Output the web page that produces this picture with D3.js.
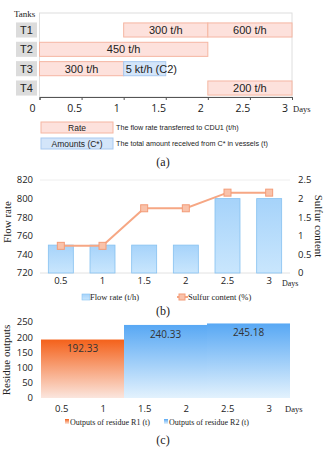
<!DOCTYPE html>
<meta charset="utf-8">
<style>
  body { margin: 0; background: #fff; }
  svg { display: block; }
  .serif { font-family: "Liberation Serif", "DejaVu Serif", serif; fill: #222; }
  .sans { font-family: "Open Sans", "Noto Sans", sans-serif; fill: #222; }
  .arial { font-family: "Liberation Sans", Arial, sans-serif; fill: #222; }
</style>
<body>
<script src="https://d3js.org/d3.v7.min.js"></script>
<script>
// panel (a) – tank schedule
var tanks = ["T1", "T2", "T3", "T4"];
var ganttTank  = ["T1", "T1", "T2", "T3", "T3", "T4"];
var ganttStart = [1, 2, 0, 0, 1, 2];
var ganttEnd   = [2, 3, 2, 1, 1.5, 3];
var ganttLabel = ["300 t/h", "600 t/h", "450 t/h", "300 t/h", "5 kt/h (C2)", "200 t/h"];
var ganttKind  = ["rate", "rate", "rate", "rate", "amount", "rate"];
var dayTicks = [0, 0.5, 1, 1.5, 2, 2.5, 3];

// panel (b) – flow rate and sulfur content
var days = ["0.5", "1", "1.5", "2", "2.5", "3"];
var flowRate = [750, 750, 750, 750, 800, 800];
var sulfur = [0.73, 0.73, 1.74, 1.74, 2.16, 2.16];
var flowTicks = [720, 740, 760, 780, 800, 820];
var sulfurTicks = [0, 0.5, 1, 1.5, 2, 2.5];

// panel (c) – residue outputs
var residueName  = ["R1", "R2", "R2"];
var residueFrom  = ["0.5", "1.5", "2.5"];
var residueTo    = ["1", "2", "3"];
var residueValue = [192.33, 240.33, 245.18];
var residueTicks = [0, 50, 100, 150, 200, 250];

var W = 325, H = 466;
var svg = d3.select("body").append("svg").attr("width", W).attr("height", H);
var defs = svg.append("defs");

function grad(id, top, bottom) {
    var g = defs.append("linearGradient").attr("id", id)
        .attr("x1", 0).attr("y1", 0).attr("x2", 0).attr("y2", 1);
    g.append("stop").attr("offset", "0%").attr("stop-color", top);
    g.append("stop").attr("offset", "100%").attr("stop-color", bottom);
}
grad("gBlueB", "#a6d3fa", "#c9e6fd");
grad("gR1", "#f4611a", "#fbe6de");
grad("gR2", "#58a8f4", "#e3f2fd");

// ---------------- (a) ----------------
var xa = d3.scaleLinear().domain([0, 3]).range([39.5, 292]);
var ya = d3.scaleBand().domain(tanks).range([20.5, 97.5]).paddingInner(0.22).paddingOuter(0.1);
var ga = svg.append("g");

ga.append("rect").attr("x", xa(0)).attr("y", 13).attr("width", xa(3) - xa(0)).attr("height", 84)
  .attr("fill", "none").attr("stroke", "#dedede");

ga.append("text").attr("class", "serif").attr("x", 14).attr("y", 17)
  .style("font-size", "9px").text("Tanks");

var tankG = ga.selectAll(".tank").data(tanks).enter().append("g");
tankG.append("rect").attr("x", 16).attr("width", 21)
  .attr("y", function(d) { return ya(d); }).attr("height", ya.bandwidth())
  .attr("fill", "#dcdcdc");
tankG.append("text").attr("class", "arial").attr("x", 26.5)
  .attr("y", function(d) { return ya(d) + ya.bandwidth() / 2; })
  .attr("dy", "0.36em").attr("text-anchor", "middle").style("font-size", "11px")
  .text(function(d) { return d; });

var segs = d3.range(ganttTank.length);
ga.selectAll(".seg").data(segs).enter().append("rect")
  .attr("x", function(i) { return xa(ganttStart[i]); })
  .attr("width", function(i) { return xa(ganttEnd[i]) - xa(ganttStart[i]); })
  .attr("y", function(i) { return ya(ganttTank[i]) + 0.5; })
  .attr("height", ya.bandwidth() - 1)
  .attr("fill", function(i) { return ganttKind[i] == "rate" ? "#fde1dc" : "#d3e5fa"; })
  .attr("stroke", function(i) { return ganttKind[i] == "rate" ? "#f5b6a2" : "#a9c9f0"; })
  .attr("stroke-width", 1);

ga.selectAll(".segLabel").data(segs).enter().append("text")
  .attr("class", "arial")
  .attr("x", function(i) {
      return ganttKind[i] == "rate" ? (xa(ganttStart[i]) + xa(ganttEnd[i])) / 2 : xa(ganttStart[i]) + 2;
  })
  .attr("text-anchor", function(i) { return ganttKind[i] == "rate" ? "middle" : "start"; })
  .attr("y", function(i) { return ya(ganttTank[i]) + ya.bandwidth() / 2; })
  .attr("dy", "0.36em").style("font-size", "11px")
  .text(function(i) { return ganttLabel[i]; });

var axA = ga.append("g").attr("transform", "translate(0,97)")
  .call(d3.axisBottom(xa).tickValues(dayTicks).tickSize(3).tickFormat(""));
axA.select(".domain").attr("stroke", "#555");
axA.selectAll(".tick line").attr("stroke", "#555");
ga.selectAll(".dayLabel").data(dayTicks).enter().append("text")
  .attr("class", "sans").attr("x", function(d) { return xa(d) - 7; }).attr("y", 112)
  .attr("text-anchor", "middle").style("font-size", "10.5px")
  .text(function(d) { return d; });
ga.append("text").attr("class", "serif").attr("x", 293).attr("y", 112)
  .style("font-size", "8.5px").text("Days");

// legend (a)
var legA = [["Rate", "The flow rate transferred to CDU1 (t/h)", "#fde1dc", "#f5b6a2"],
            ["Amounts (C*)", "The total amount received from C* in vessels (t)", "#d3e5fa", "#a9c9f0"]];
legA.forEach(function(l, i) {
    var y0 = 122 + i * 16;
    ga.append("rect").attr("x", 41).attr("y", y0).attr("width", 72).attr("height", 11)
      .attr("fill", l[2]).attr("stroke", l[3]);
    ga.append("text").attr("class", "arial").attr("x", 77).attr("y", y0 + 5.5).attr("dy", "0.36em")
      .attr("text-anchor", "middle").style("font-size", "8.5px").text(l[0]);
    ga.append("text").attr("class", "arial").attr("x", 116).attr("y", y0 + 5.5).attr("dy", "0.36em")
      .style("font-size", "7.2px").text(l[1]);
});
svg.append("text").attr("class", "serif").attr("x", 163).attr("y", 166)
  .attr("text-anchor", "middle").style("font-size", "12px").text("(a)");

// ---------------- (b) ----------------
var xb = d3.scaleBand().domain(days).range([40, 290]).paddingInner(0.4).paddingOuter(0.2);
var yb = d3.scaleLinear().domain([720, 820]).range([273, 180]);
var yb2 = d3.scaleLinear().domain([0, 2.5]).range([273, 180]);
var gb = svg.append("g");

gb.append("line").attr("x1", 40).attr("x2", 290).attr("y1", yb(820)).attr("y2", yb(820))
  .attr("stroke", "#eee");
gb.append("line").attr("x1", 40).attr("x2", 290).attr("y1", yb(720)).attr("y2", yb(720))
  .attr("stroke", "#e2e2e2");

gb.selectAll(".bar").data(flowRate).enter().append("rect")
  .attr("x", function(d, i) { return xb(days[i]); })
  .attr("width", xb.bandwidth())
  .attr("y", function(d) { return yb(d); })
  .attr("height", function(d) { return yb(720) - yb(d); })
  .attr("fill", "url(#gBlueB)").attr("stroke", "#86c1f0").attr("stroke-width", 0.8);

var line = d3.line()
  .x(function(d, i) { return xb(days[i]) + xb.bandwidth() / 2; })
  .y(function(d) { return yb2(d); });
gb.append("path").datum(sulfur).attr("d", line)
  .attr("fill", "none").attr("stroke", "#f6a784").attr("stroke-width", 2);
gb.selectAll(".mk").data(sulfur).enter().append("rect")
  .attr("x", function(d, i) { return xb(days[i]) + xb.bandwidth() / 2 - 3.5; })
  .attr("y", function(d) { return yb2(d) - 3.5; })
  .attr("width", 7).attr("height", 7)
  .attr("fill", "#f9c2aa").attr("stroke", "#f39c78").attr("stroke-width", 1);

gb.selectAll(".lt").data(flowTicks).enter().append("text")
  .attr("class", "sans").attr("x", 33).attr("y", function(d) { return yb(d); })
  .attr("dy", "0.36em").attr("text-anchor", "end").style("font-size", "9.5px")
  .text(function(d) { return d; });
gb.selectAll(".rt").data(sulfurTicks).enter().append("text")
  .attr("class", "sans").attr("x", 298).attr("y", function(d) { return yb2(d); })
  .attr("dy", "0.36em").style("font-size", "9.5px")
  .text(function(d) { return d; });
gb.selectAll(".xt").data(days).enter().append("text")
  .attr("class", "sans").attr("x", function(d) { return xb(d) + xb.bandwidth() / 2; })
  .attr("y", 281).attr("dy", "0.36em").attr("text-anchor", "middle").style("font-size", "9.5px")
  .text(function(d) { return d; });
gb.append("text").attr("class", "serif").attr("x", 282).attr("y", 283.5).attr("dy", "0.36em")
  .style("font-size", "8px").text("Days");

gb.append("text").attr("class", "serif").attr("transform", "translate(11,222) rotate(-90)")
  .attr("text-anchor", "middle").style("font-size", "11px").text("Flow rate");
gb.append("text").attr("class", "serif").attr("transform", "translate(315,226) rotate(90)")
  .attr("text-anchor", "middle").style("font-size", "11px").text("Sulfur content");

// legend (b)
gb.append("rect").attr("x", 82).attr("y", 294).attr("width", 8).attr("height", 6)
  .attr("fill", "url(#gBlueB)").attr("stroke", "#86c1f0").attr("stroke-width", 0.6);
gb.append("text").attr("class", "serif").attr("x", 90).attr("y", 297).attr("dy", "0.36em")
  .style("font-size", "8.5px").text("Flow rate (t/h)");
gb.append("line").attr("x1", 177).attr("x2", 188).attr("y1", 297).attr("y2", 297)
  .attr("stroke", "#f6a784").attr("stroke-width", 2);
gb.append("rect").attr("x", 179).attr("y", 294).attr("width", 6).attr("height", 6)
  .attr("fill", "#f9c2aa").attr("stroke", "#f39c78");
gb.append("text").attr("class", "serif").attr("x", 188).attr("y", 297).attr("dy", "0.36em")
  .style("font-size", "8.5px").text("Sulfur content (%)");
svg.append("text").attr("class", "serif").attr("x", 163).attr("y", 315)
  .attr("text-anchor", "middle").style("font-size", "12px").text("(b)");

// ---------------- (c) ----------------
var xc = d3.scaleBand().domain(days).range([41, 290]).padding(0);
var yc = d3.scaleLinear().domain([0, 250]).range([398, 322]);
var gc = svg.append("g");

var blocks = d3.range(residueValue.length);
gc.selectAll(".res").data(blocks).enter().append("rect")
  .attr("x", function(i) { return xc(residueFrom[i]); })
  .attr("width", function(i) { return xc(residueTo[i]) + xc.bandwidth() - xc(residueFrom[i]); })
  .attr("y", function(i) { return yc(residueValue[i]); })
  .attr("height", function(i) { return yc(0) - yc(residueValue[i]); })
  .attr("fill", function(i) { return residueName[i] == "R1" ? "url(#gR1)" : "url(#gR2)"; });
gc.selectAll(".resLabel").data(blocks).enter().append("text")
  .attr("class", "sans")
  .attr("x", function(i) { return (xc(residueFrom[i]) + xc(residueTo[i]) + xc.bandwidth()) / 2; })
  .attr("y", function(i) { return yc(residueValue[i]) + 9; })
  .attr("dy", "0.36em").attr("text-anchor", "middle").style("font-size", "10px").style("fill", "#333")
  .text(function(i) { return residueValue[i].toFixed(2); });

gc.selectAll(".lt").data(residueTicks).enter().append("text")
  .attr("class", "sans").attr("x", 33).attr("y", function(d) { return yc(d); })
  .attr("dy", "0.36em").attr("text-anchor", "end").style("font-size", "9.5px")
  .text(function(d) { return d; });
gc.selectAll(".xt").data(days).enter().append("text")
  .attr("class", "sans").attr("x", function(d) { return xc(d) + xc.bandwidth() / 2; })
  .attr("y", 409).attr("dy", "0.36em").attr("text-anchor", "middle").style("font-size", "9.5px")
  .text(function(d) { return d; });
gc.append("text").attr("class", "serif").attr("x", 285).attr("y", 409).attr("dy", "0.36em")
  .style("font-size", "8.5px").text("Days");
gc.append("text").attr("class", "serif").attr("transform", "translate(10,360) rotate(-90)")
  .attr("text-anchor", "middle").style("font-size", "11px").text("Residue outputs");

// legend (c)
gc.append("rect").attr("x", 65).attr("y", 419).attr("width", 4).attr("height", 5).attr("fill", "url(#gR1)");
gc.append("text").attr("class", "serif").attr("x", 70).attr("y", 422).attr("dy", "0.36em")
  .style("font-size", "8px").text("Outputs of residue R1 (t)");
gc.append("rect").attr("x", 164).attr("y", 419).attr("width", 4).attr("height", 5).attr("fill", "url(#gR2)");
gc.append("text").attr("class", "serif").attr("x", 169).attr("y", 422).attr("dy", "0.36em")
  .style("font-size", "8px").text("Outputs of residue R2 (t)");
svg.append("text").attr("class", "serif").attr("x", 163).attr("y", 444)
  .attr("text-anchor", "middle").style("font-size", "12px").text("(c)");
</script>
</body>
